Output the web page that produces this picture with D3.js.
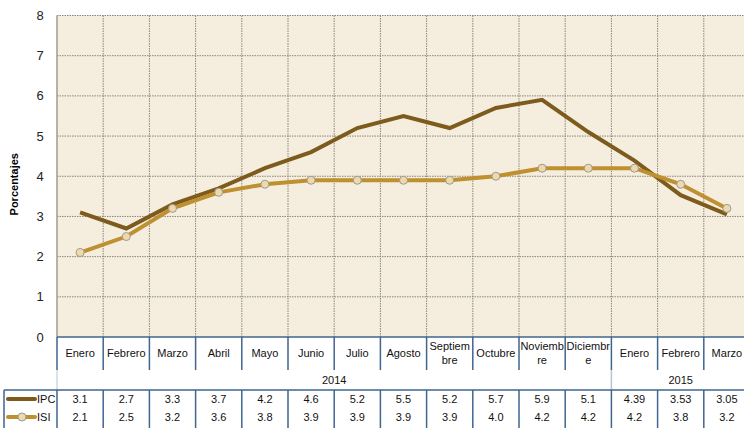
<!DOCTYPE html>
<html>
<head>
<meta charset="utf-8">
<script src="https://cdn.jsdelivr.net/npm/d3@7"></script>
<style>
  body { margin: 0; background: #fff; }
  svg { display: block; font-family: "Liberation Sans", Arial, sans-serif; }
</style>
</head>
<body>
<div id="chart"></div>
<script>
// data
var months = ["Enero", "Febrero", "Marzo", "Abril", "Mayo", "Junio", "Julio", "Agosto",
    "Septiem|bre", "Octubre", "Noviemb|re", "Diciembr|e", "Enero", "Febrero", "Marzo"]
var years = [{label: "2014", from: 0, to: 11}, {label: "2015", from: 12, to: 14}]
var ipc = [3.1, 2.7, 3.3, 3.7, 4.2, 4.6, 5.2, 5.5, 5.2, 5.7, 5.9, 5.1, 4.39, 3.53, 3.05]
var isi = [2.1, 2.5, 3.2, 3.6, 3.8, 3.9, 3.9, 3.9, 3.9, 4.0, 4.2, 4.2, 4.2, 3.8, 3.2]
var ipcText = ["3.1", "2.7", "3.3", "3.7", "4.2", "4.6", "5.2", "5.5", "5.2", "5.7", "5.9", "5.1", "4.39", "3.53", "3.05"]
var isiText = ["2.1", "2.5", "3.2", "3.6", "3.8", "3.9", "3.9", "3.9", "3.9", "4.0", "4.2", "4.2", "4.2", "3.8", "3.2"]
var yTicks = [0, 1, 2, 3, 4, 5, 6, 7, 8]

var width = 744
var height = 428
var plot = {left: 57, right: 750, top: 15.5, bottom: 337}
var tableBlue = "#3f6590"
var ipcColor = "#7d5b1d"
var isiColor = "#be902f"

var svg = d3.select("#chart")
    .append("svg")
        .attr("width", width)
        .attr("height", height)

var idx = d3.range(months.length)
var x = d3.scaleBand()
    .domain(idx)
    .range([plot.left, plot.right])
    .padding(0)
var y = d3.scaleLinear()
    .domain([0, 8])
    .range([plot.bottom, plot.top])
var cx = i => x(i) + x.bandwidth() / 2

// plot background
svg.append("rect")
    .attr("x", plot.left)
    .attr("y", plot.top)
    .attr("width", plot.right - plot.left)
    .attr("height", plot.bottom - plot.top)
    .style("fill", "#f5eede")

// grid
svg.append("g")
    .selectAll("line")
    .data(yTicks.slice(1))
    .enter()
    .append("line")
        .attr("x1", plot.left)
        .attr("x2", plot.right)
        .attr("y1", d => y(d))
        .attr("y2", d => y(d))
        .style("stroke", "#8a857c")
        .style("stroke-dasharray", "1.5,1")
svg.append("g")
    .selectAll("line")
    .data(idx.slice(1))
    .enter()
    .append("line")
        .attr("x1", d => x(d))
        .attr("x2", d => x(d))
        .attr("y1", plot.top)
        .attr("y2", plot.bottom)
        .style("stroke", "#8a857c")
        .style("stroke-dasharray", "1.5,1")

// y axis
svg.append("line")
    .attr("x1", plot.left).attr("x2", plot.left)
    .attr("y1", plot.top).attr("y2", plot.bottom)
    .style("stroke", "#a09a90")
    .style("stroke-width", 1.5)

svg.append("g")
    .selectAll("text")
    .data(yTicks)
    .enter()
    .append("text")
        .attr("x", 40)
        .attr("y", d => y(d) + 4.5)
        .attr("text-anchor", "middle")
        .style("font-size", "13px")
        .style("fill", "#222")
        .text(d => d)

svg.append("text")
    .attr("transform", "translate(18," + ((plot.top + plot.bottom) / 2 + 8) + ") rotate(-90)")
    .attr("text-anchor", "middle")
    .style("font-size", "11px")
    .style("font-weight", "bold")
    .text("Porcentajes")

// lines
var line = d3.line()
    .x((d, i) => cx(i))
    .y(d => y(d))

svg.append("path")
    .datum(ipc)
    .attr("d", line)
    .style("fill", "none")
    .style("stroke", ipcColor)
    .style("stroke-width", 4)

svg.append("path")
    .datum(isi)
    .attr("d", line)
    .style("fill", "none")
    .style("stroke", isiColor)
    .style("stroke-width", 4)

svg.append("g")
    .selectAll("circle")
    .data(isi)
    .enter()
    .append("circle")
        .attr("cx", (d, i) => cx(i))
        .attr("cy", d => y(d))
        .attr("r", 4)
        .style("fill", "#efd9a6")
        .style("stroke", "#9a9a9a")
        .style("stroke-width", 1)

//// table ////

var t = svg.append("g")

// category row
t.append("line")
    .attr("x1", plot.left).attr("x2", plot.right)
    .attr("y1", plot.bottom).attr("y2", plot.bottom)
    .style("stroke", tableBlue).style("stroke-width", 1.5)
t.selectAll(".catsep")
    .data(idx)
    .enter()
    .append("line")
        .attr("x1", d => x(d))
        .attr("x2", d => x(d))
        .attr("y1", plot.bottom)
        .attr("y2", 370)
        .style("stroke", tableBlue)
        .style("stroke-width", 1.5)

t.selectAll(".cat")
    .data(months)
    .enter()
    .append("text")
        .attr("text-anchor", "middle")
        .style("font-size", "11px")
        .style("fill", "#111")
        .each(function (d, i) {
            var parts = d.split("|")
            var el = d3.select(this)
            if (parts.length == 1) {
                el.append("tspan").attr("x", cx(i)).attr("y", 357).text(parts[0])
            } else {
                el.append("tspan").attr("x", cx(i)).attr("y", 350).text(parts[0])
                el.append("tspan").attr("x", cx(i)).attr("y", 364).text(parts[1])
            }
        })

// year row
t.append("line")
    .attr("x1", plot.left).attr("x2", plot.left)
    .attr("y1", 370).attr("y2", 390)
    .style("stroke", "#b7c4d3")
t.append("line")
    .attr("x1", x(12)).attr("x2", x(12))
    .attr("y1", 370).attr("y2", 390)
    .style("stroke", "#b7c4d3").style("stroke-width", 1.5)
t.selectAll(".year")
    .data(years)
    .enter()
    .append("text")
        .attr("x", d => (x(d.from) + x(d.to) + x.bandwidth()) / 2)
        .attr("y", 384)
        .attr("text-anchor", "middle")
        .style("font-size", "11px")
        .style("fill", "#111")
        .text(d => d.label)

// data rows
t.append("line")
    .attr("x1", 4).attr("x2", plot.right)
    .attr("y1", 390).attr("y2", 390)
    .style("stroke", tableBlue).style("stroke-width", 1.5)
t.append("line")
    .attr("x1", 4).attr("x2", 4)
    .attr("y1", 390).attr("y2", height)
    .style("stroke", tableBlue).style("stroke-width", 1.5)
t.selectAll(".datasep")
    .data(idx)
    .enter()
    .append("line")
        .attr("x1", d => x(d))
        .attr("x2", d => x(d))
        .attr("y1", 390)
        .attr("y2", height)
        .style("stroke", tableBlue)
        .style("stroke-width", 1.5)

var rows = [{name: "IPC", text: ipcText, y: 403, color: ipcColor, marker: false},
            {name: "ISI", text: isiText, y: 421, color: isiColor, marker: true}]

rows.forEach(function (r) {
    t.append("line")
        .attr("x1", 8).attr("x2", 35)
        .attr("y1", r.y - 4).attr("y2", r.y - 4)
        .style("stroke", r.color)
        .style("stroke-width", 4)
        .style("stroke-linecap", "round")
    if (r.marker) {
        t.append("circle")
            .attr("cx", 22).attr("cy", r.y - 4).attr("r", 4)
            .style("fill", "#efd9a6")
            .style("stroke", "#9a9a9a")
    }
    t.append("text")
        .attr("x", 37)
        .attr("y", r.y)
        .style("font-size", "11px")
        .style("fill", "#111")
        .text(r.name)
    t.selectAll(".v" + r.name)
        .data(r.text)
        .enter()
        .append("text")
            .attr("x", (d, i) => cx(i))
            .attr("y", r.y)
            .attr("text-anchor", "middle")
            .style("font-size", "11px")
            .style("fill", "#111")
            .text(d => d)
})
</script>
</body>
</html>
